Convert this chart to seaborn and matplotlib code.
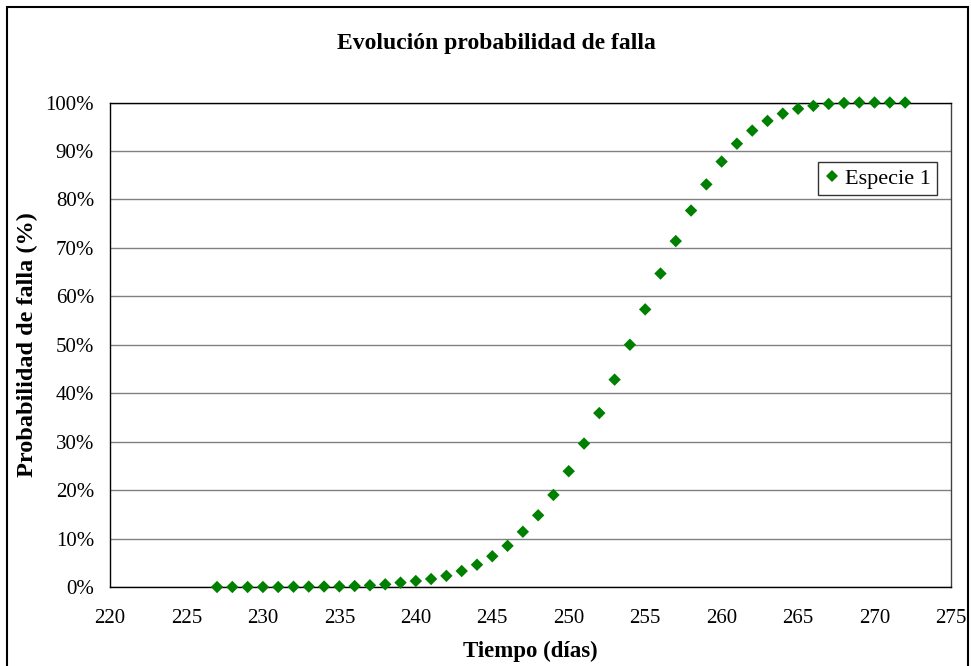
import matplotlib
matplotlib.use("Agg")
import matplotlib.pyplot as plt
from matplotlib.patches import Rectangle
from matplotlib.ticker import FuncFormatter, MultipleLocator
import seaborn as sns
import pandas as pd

# Data
dias = list(range(227, 273))
probabilidad = [0.0, 0.0, 0.0, 0.0, 0.0, 0.05, 0.08, 0.1, 0.12, 0.2, 0.35, 0.55, 0.9,
                1.24, 1.65, 2.3, 3.3, 4.6, 6.35, 8.5, 11.4, 14.8, 19.0, 23.9, 29.6,
                35.9, 42.8, 50.0, 57.3, 64.7, 71.4, 77.7, 83.1, 87.8, 91.5, 94.2,
                96.2, 97.7, 98.7, 99.3, 99.7, 99.9, 100.0, 100.0, 100.0, 100.0]
serie = "Especie 1"
titulo = "Evolución probabilidad de falla"
xlabel = "Tiempo (días)"
ylabel = "Probabilidad de falla (%)"

df = pd.DataFrame({"dias": dias, "prob": probabilidad, "serie": serie})

sns.set_style("white")
plt.rcParams["font.family"] = ["Liberation Serif", "DejaVu Serif"]
plt.rcParams["text.color"] = "black"
plt.rcParams["axes.labelcolor"] = "black"
plt.rcParams["xtick.color"] = "black"
plt.rcParams["ytick.color"] = "black"

W, H = 971, 666
fig = plt.figure(figsize=(W / 100, H / 100), dpi=100)
L, R, T, B = 110, 951, 102.5, 587
ax = fig.add_axes([L / W, 1 - B / H, (R - L) / W, (B - T) / H])

sns.scatterplot(data=df, x="dias", y="prob", hue="serie", palette=["#008000"],
                marker="D", s=40, edgecolor="none", linewidth=0, ax=ax, zorder=3,
                clip_on=False)

ax.set_xlim(220, 275)
ax.set_ylim(0, 100)
ax.xaxis.set_major_locator(MultipleLocator(5))
ax.yaxis.set_major_locator(MultipleLocator(10))
ax.yaxis.set_major_formatter(FuncFormatter(lambda v, p: f"{int(round(v))}%"))
ax.tick_params(axis="both", direction="out", length=5, width=1, color="black",
               labelsize=15, labelcolor="black")
ax.tick_params(axis="x", pad=11)
ax.tick_params(axis="y", pad=6.5)
ax.grid(axis="y", color="#808080", linewidth=1)
ax.grid(axis="x", visible=False)
ax.set_axisbelow(True)
for s in ax.spines.values():
    s.set_color("black")
    s.set_linewidth(1)
ax.spines["right"].set_color("#404040")

ax.set_xlabel(xlabel, fontsize=16.5, fontweight="bold", labelpad=9, color="black")
ax.set_ylabel(ylabel, fontsize=17.5, fontweight="bold", labelpad=5, color="black")
fig.text(496 / W, 1 - 44 / H, titulo, ha="center", va="center",
         fontsize=17, fontweight="bold", color="black")

leg = ax.legend(loc="upper left", bbox_to_anchor=((818 - L) / (R - L), 1 - (162 - T) / (B - T)),
                frameon=True, fancybox=False, fontsize=16, handletextpad=0.25,
                borderpad=0.28, handlelength=0.7, borderaxespad=0, markerscale=1.0,
                labelcolor="black")
leg.get_frame().set_edgecolor("black")
leg.get_frame().set_linewidth(1)

# outer chart border
fig.patches.append(Rectangle((7 / W, -0.05), (968 - 7) / W, 1.05 - 7 / H,
                             transform=fig.transFigure, fill=False,
                             edgecolor="black", linewidth=1.5))

fig.savefig("out.png", dpi=100)
